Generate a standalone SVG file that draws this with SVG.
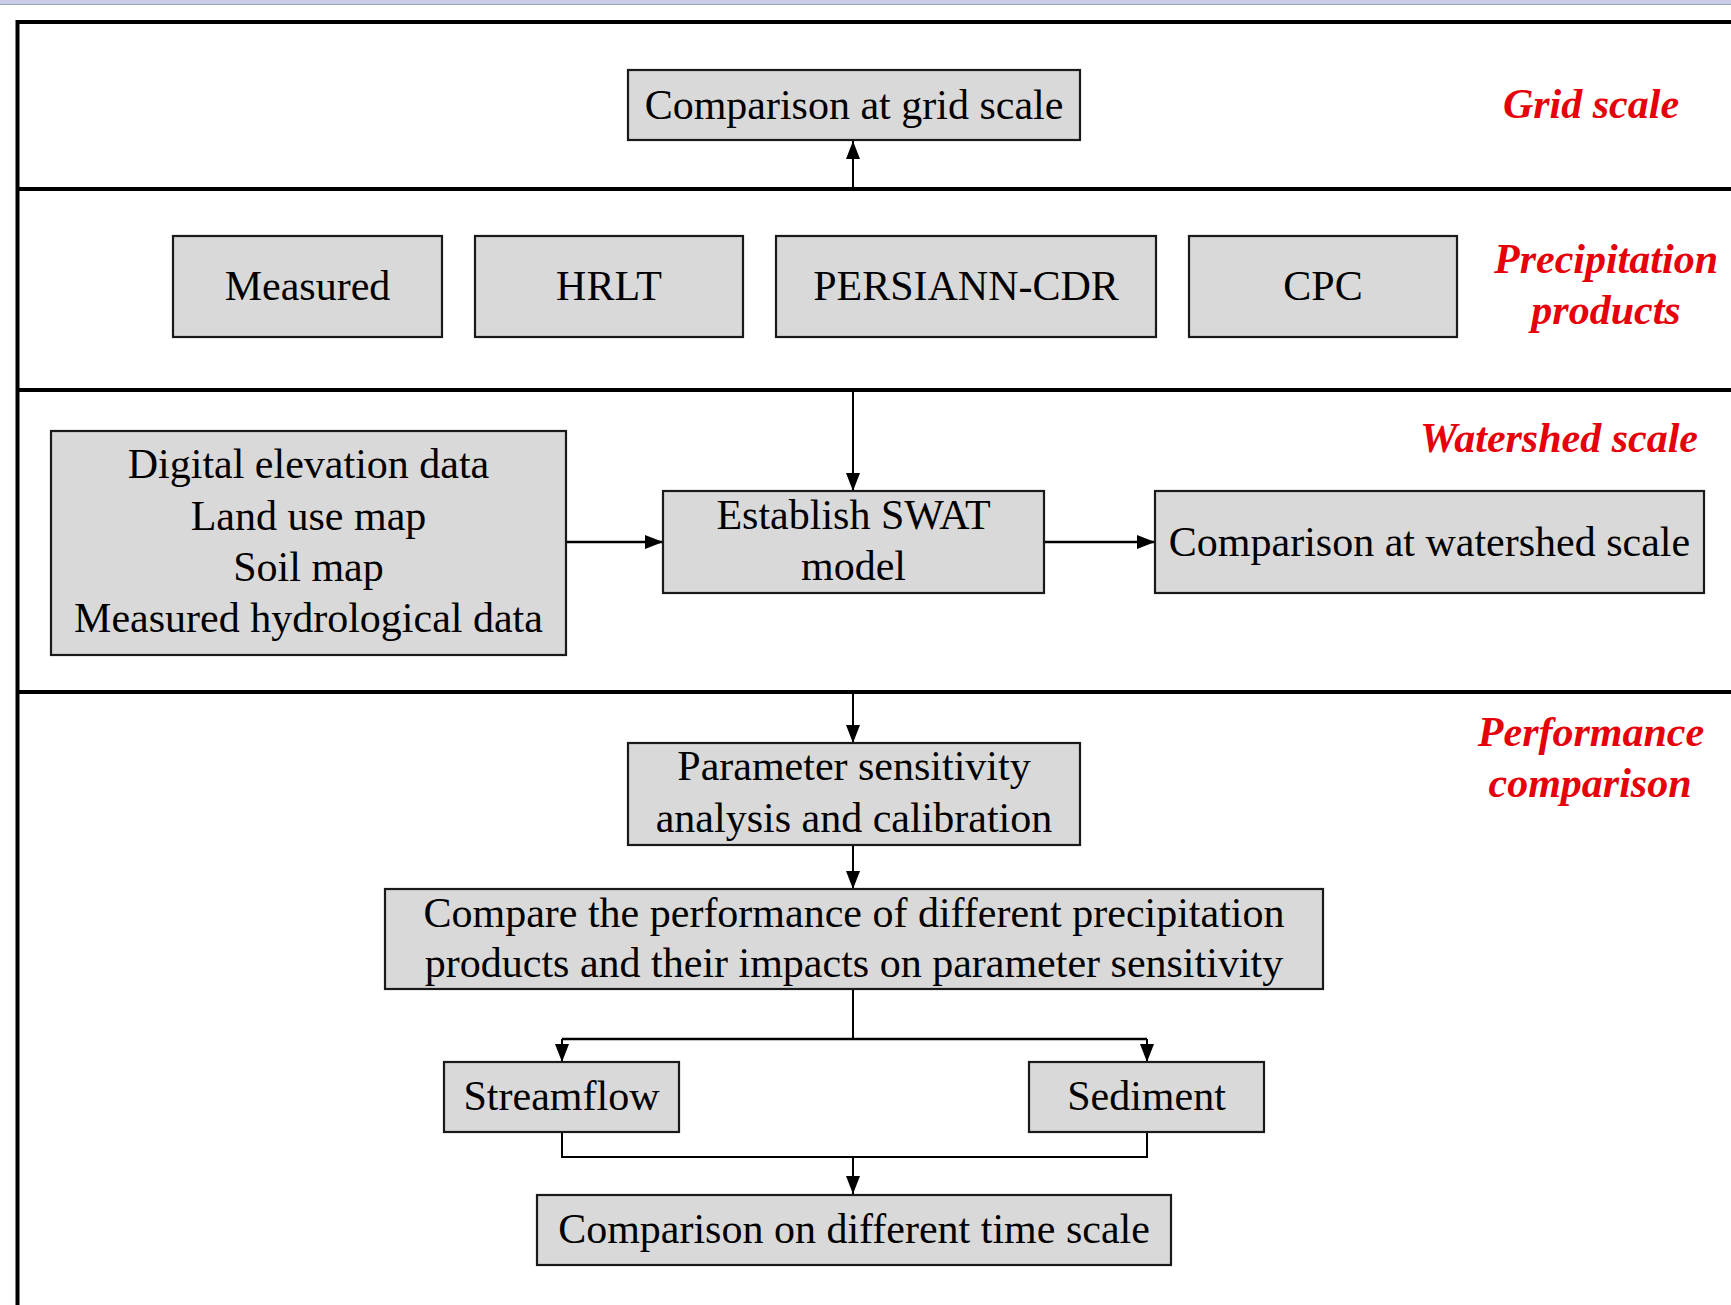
<svg xmlns="http://www.w3.org/2000/svg" width="1731" height="1305" viewBox="0 0 1731 1305">
<style>
.box{fill:#d9d9d9;stroke:#1a1a1a;stroke-width:2.2}
.t{font-family:"Liberation Serif","Times New Roman",serif;font-size:42px;fill:#000;text-anchor:middle}
.lab{font-family:"Liberation Serif","Times New Roman",serif;font-size:42px;font-weight:bold;font-style:italic;fill:#e6000a;text-anchor:middle}
.frame{stroke:#000;stroke-width:4;fill:none}
.c{stroke:#000;stroke-width:2;fill:none}
.c2{stroke:#000;stroke-width:2.6;fill:none}
</style>
<defs>
<marker id="ah" markerWidth="18" markerHeight="14" refX="18" refY="7" orient="auto" markerUnits="userSpaceOnUse">
<path d="M0,0 L18,7 L0,14 Z" fill="#000"/>
</marker>
</defs>
<rect x="0" y="0" width="1731" height="1305" fill="#fff"/>
<rect x="0" y="0" width="1731" height="4" fill="#c9cbe9"/>
<line x1="0" y1="4.5" x2="1731" y2="4.5" stroke="#9aa6b4" stroke-width="1"/>

<g id="frame">
<path class="frame" d="M17.5,1305 V22 H1731"/>
<line class="frame" x1="17.5" y1="189" x2="1731" y2="189"/>
<line class="frame" x1="17.5" y1="390" x2="1731" y2="390"/>
<line class="frame" x1="17.5" y1="692" x2="1731" y2="692"/>
</g>

<g id="labels">
<text class="lab" x="1591" y="118">Grid scale</text>
<text class="lab" x="1606" y="273">Precipitation</text>
<text class="lab" x="1606" y="324">products</text>
<text class="lab" x="1559" y="452">Watershed scale</text>
<text class="lab" x="1591" y="746">Performance</text>
<text class="lab" x="1590" y="797">comparison</text>
</g>

<g id="connectors">
<line class="c" x1="853" y1="189" x2="853" y2="141" marker-end="url(#ah)"/>
<line class="c" x1="853" y1="390" x2="853" y2="491" marker-end="url(#ah)"/>
<line class="c2" x1="566" y1="542" x2="663" y2="542" marker-end="url(#ah)"/>
<line class="c2" x1="1044" y1="542" x2="1155" y2="542" marker-end="url(#ah)"/>
<line class="c" x1="853" y1="692" x2="853" y2="743" marker-end="url(#ah)"/>
<line class="c" x1="853" y1="845" x2="853" y2="889" marker-end="url(#ah)"/>
<path class="c" d="M853,989 V1039"/>
<path class="c2" d="M562,1039 H1147"/>
<line class="c" x1="562" y1="1039" x2="562" y2="1062" marker-end="url(#ah)"/>
<line class="c" x1="1147" y1="1039" x2="1147" y2="1062" marker-end="url(#ah)"/>
<path class="c" d="M562,1132 V1157 H1147 V1132"/>
<line class="c" x1="853" y1="1157" x2="853" y2="1194" marker-end="url(#ah)"/>
</g>

<g id="grid-compare">
<rect class="box" x="628" y="70" width="452" height="70"/>
<text class="t" x="854" y="119">Comparison at grid scale</text>
</g>
<g id="measured">
<rect class="box" x="173" y="236" width="269" height="101"/>
<text class="t" x="307.5" y="300">Measured</text>
</g>
<g id="hrlt">
<rect class="box" x="475" y="236" width="268" height="101"/>
<text class="t" x="609" y="300">HRLT</text>
</g>
<g id="persiann">
<rect class="box" x="776" y="236" width="380" height="101"/>
<text class="t" x="966" y="300">PERSIANN-CDR</text>
</g>
<g id="cpc">
<rect class="box" x="1189" y="236" width="268" height="101"/>
<text class="t" x="1323" y="300">CPC</text>
</g>
<g id="inputs">
<rect class="box" x="51" y="431" width="515" height="224"/>
<text class="t" x="308.5" y="478">Digital elevation data</text>
<text class="t" x="308.5" y="530">Land use map</text>
<text class="t" x="308.5" y="581">Soil map</text>
<text class="t" x="308.5" y="632">Measured hydrological data</text>
</g>
<g id="swat">
<rect class="box" x="663" y="491" width="381" height="102"/>
<text class="t" x="853.5" y="529">Establish SWAT</text>
<text class="t" x="853.5" y="580">model</text>
</g>
<g id="watershed-compare">
<rect class="box" x="1155" y="491" width="549" height="102"/>
<text class="t" x="1429.5" y="556">Comparison at watershed scale</text>
</g>
<g id="param">
<rect class="box" x="628" y="743" width="452" height="102"/>
<text class="t" x="854" y="780">Parameter sensitivity</text>
<text class="t" x="854" y="832">analysis and calibration</text>
</g>
<g id="compare-perf">
<rect class="box" x="385" y="889" width="938" height="100"/>
<text class="t" x="854" y="927">Compare the performance of different precipitation</text>
<text class="t" x="854" y="977">products and their impacts on parameter sensitivity</text>
</g>
<g id="streamflow">
<rect class="box" x="444" y="1062" width="235" height="70"/>
<text class="t" x="561.5" y="1110">Streamflow</text>
</g>
<g id="sediment">
<rect class="box" x="1029" y="1062" width="235" height="70"/>
<text class="t" x="1146.5" y="1110">Sediment</text>
</g>
<g id="time-compare">
<rect class="box" x="537" y="1195" width="634" height="70"/>
<text class="t" x="854" y="1243">Comparison on different time scale</text>
</g>
</svg>
